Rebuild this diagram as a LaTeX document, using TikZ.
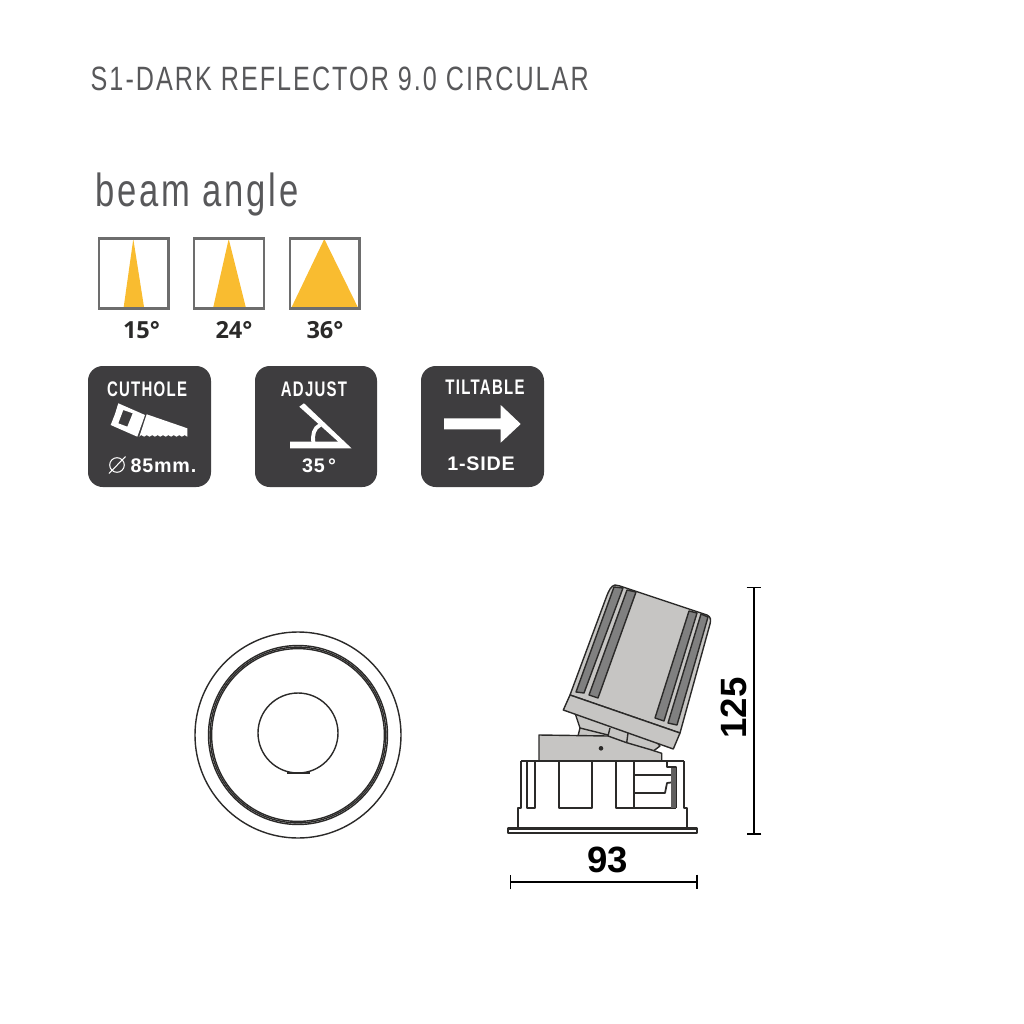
\documentclass[tikz,border=0pt]{standalone}
\usepackage{fontspec}
\setmainfont{Liberation Sans}
\newfontfamily\narrowfont[FakeStretch=0.745,LetterSpace=6]{Liberation Sans}
\newfontfamily\iconfont[FakeStretch=0.71,LetterSpace=6]{Liberation Sans}
\newfontfamily\wideiconfont[LetterSpace=4]{Liberation Sans}
\newfontfamily\angfont{Open Sans}
\usetikzlibrary{arrows.meta}
\definecolor{titlegray}{HTML}{58585A}
\definecolor{boxgray}{HTML}{6D6D6D}
\definecolor{beamyellow}{HTML}{F9BC30}
\definecolor{icondark}{HTML}{3E3D3F}
\definecolor{lampgray}{HTML}{C6C5C3}
\definecolor{groovegray}{HTML}{808080}
\definecolor{linedark}{HTML}{2B2A29}
\tikzset{
	title/.style = {anchor=west, inner sep=0pt, text=titlegray, font=\narrowfont\fontsize{9.6}{12}\selectfont},
	beamhead/.style = {anchor=west, inner sep=0pt, text=titlegray, font=\narrowfont\fontsize{13.2}{16}\selectfont},
	beambox/.style = {draw=boxgray, line width=0.8pt},
	beamfill/.style = {fill=beamyellow},
	anglabel/.style = {inner sep=0pt, text=linedark, font=\angfont\bfseries\fontsize{6.7}{8}\selectfont},
	iconbox/.style = {fill=icondark, rounded corners=4.2pt},
	icontop/.style = {inner sep=0pt, text=white, font=\iconfont\bfseries\fontsize{6}{8}\selectfont},
	iconlow/.style = {inner sep=0pt, text=white, font=\wideiconfont\bfseries\fontsize{5.6}{7}\selectfont},
	iconart/.style = {fill=white},
	lampline/.style = {draw=linedark, line width=0.4pt, line join=round},
	lampfill/.style = {lampline, fill=lampgray},
	groove/.style = {lampline, fill=groovegray},
	dimline/.style = {draw=black, line width=0.5pt, {Bar[width=4.2pt]}-{Bar[width=4.2pt]}},
	dimtext/.style = {inner sep=0pt, text=black, font=\bfseries\fontsize{10.4}{12}\selectfont}
}
\begin{document}
\begin{tikzpicture}[x=0.01cm, y=-0.01cm]
	\useasboundingbox (0,0) rectangle (1024,1024);
	\node[title] (title) at (90,79) {S1-DARK REFLECTOR 9.0 CIRCULAR};
	\node[beamhead] (beamangle) at (95,194) {beam angle};
	% beam boxes
	\fill[beamfill] (133.3,239) -- (144,307) -- (123.7,307) -- cycle;
	\fill[beamfill] (228.7,239) -- (245.7,307) -- (213.3,307) -- cycle;
	\fill[beamfill] (324.3,239) -- (357.7,307) -- (291.7,307) -- cycle;
	\draw[beambox] (99,238.3) rectangle (168.7,308.3);
	\draw[beambox] (194,238.3) rectangle (264,308.3);
	\draw[beambox] (290,238.3) rectangle (359.3,308.3);
	\node[anglabel] (ang15) at (141.5,330) {15°};
	\node[anglabel] (ang24) at (234,330) {24°};
	\node[anglabel] (ang36) at (325,330) {36°};
	% icons
	\fill[iconbox] (88,366) rectangle (211,487);
	\fill[iconbox] (255,366) rectangle (377,487);
	\fill[iconbox] (421,366) rectangle (544,487);
	\node[icontop] (cuthole) at (147,389) {CUTHOLE};
	\node[icontop] (adjust) at (314,389) {ADJUST};
	\node[icontop] (tiltable) at (485,387) {TILTABLE};
	\node[iconlow] (size) at (163.5,466) {85mm.};
	\node[iconlow] (deg) at (319,466) {35\,°};
	\node[iconlow] (side) at (481,464) {1-SIDE};
	% saw
	\fill[iconart, even odd rule] (118.3,403.3) -- (145,415) -- (137.3,436.7) -- (110.7,425) -- (115,414) -- cycle
		(123.3,410) -- (132.7,413.3) -- (127.3,426.7) -- (118.3,423.3) -- cycle;
	\fill[iconart] (146.7,414.3) -- (187.3,428.3) -- (187.3,436.7)
		\foreach \tooth in {1,...,9} { -- ++(-2.7,-1.6) -- ++(-2.7,1.6) } -- (139.3,436.7) -- cycle;
	\draw[white, line width=0.3pt] (109,473.5) -- (125.5,456.5) (117,465) circle (7.3);
	% protractor
	\fill[iconart] (290,441.7) -- (338.3,441.7) -- (299.3,406.7) -- (304,403.3) -- (351.5,448.3) -- (290,448.3) -- cycle;
	\draw[white, line width=1.1pt] (320,425) .. controls (314,428) and (312,435) .. (313.5,443);
	% arrow
	\fill[iconart] (444,418.3) -- (500.7,418.3) -- (500.7,405) -- (520.7,424) -- (500.7,442.7) -- (500.7,429.3) -- (444,429.3) -- cycle;
	% front view
	\draw[lampline] (298,735) circle (103);
	\draw[lampline] (298,735) circle (89.5);
	\draw[lampline] (298,735) circle (87.9);
	\draw[lampline] (298,735) circle (86.4);
	\draw[lampline] (298,733) circle (40);
	\draw[lampline, line width=0.7pt] (287,773) -- (310,773);
	% side view, lamp
	\draw[lampfill] (575,713) -- (580,728) -- (578,736) -- (652,752) -- (660,746) -- (620,700) -- cycle;
	\draw[lampfill] (615,585) -- (620,586) -- (707,615) .. controls (711,617) and (711,620) .. (710,624)
		-- (680,733) -- (570,695) -- (606,598) .. controls (609,590) and (611,586) .. (615,585) -- cycle;
	\draw[groove] (614,587) -- (623,588) -- (584,693) -- (576,692) -- cycle;
	\draw[groove] (627,590) -- (636,592) -- (598,698) -- (589,695) -- cycle;
	\draw[groove] (689,611) -- (697,613) -- (664,721) -- (655,718) -- cycle;
	\draw[groove] (701,614) -- (708,617) -- (677,725) -- (668,723) -- cycle;
	\draw[lampfill] (570,695) -- (680,733) -- (673.3,749) -- (563.3,710) -- cycle;
	\draw[lampline] (580,728) -- (608,735) (610,728) -- (608,736) (628,733) -- (626.7,742.7);
	\draw[lampfill] (539,735) -- (608,736) -- (626.7,742.7) -- (651.7,750) -- (661.7,753.3) -- (661.7,761) -- (539,761) -- cycle;
	\fill[linedark] (601,748.3) circle (2.3);
	% side view, bracket
	\draw[lampline, line width=0.5pt] (521,761) -- (684,761) (521,761) -- (521,808) -- (518,808) -- (518,828)
		(684,761) -- (684,808) -- (687,808) -- (687,828);
	\draw[lampline, line width=0.6pt, fill=white] (508,828.5) rectangle (697,833);
	\draw[lampline, line width=0.5pt] (527,761) -- (527,808) -- (535,808) -- (535,761);
	\draw[lampline, line width=0.5pt] (559,761) -- (559,808) -- (592,808) -- (592,761);
	\draw[lampline, line width=0.5pt] (616,761) -- (616,808) -- (676,808);
	\draw[lampline, line width=0.5pt] (634,761) -- (634,808);
	\draw[lampline, line width=0.5pt] (634,775) -- (675,775) -- (675,782) -- (667,783) -- (665,793) -- (634,793);
	\draw[lampline, line width=0.5pt] (667,761) -- (667,767) -- (676,767) -- (676,808);
	\fill[linedark!75] (671,768) rectangle (676,808);
	% dimensions
	\coordinate (h1) at (754,586.5);
	\coordinate (h2) at (754,834.5);
	\coordinate (w1) at (509.5,882);
	\coordinate (w2) at (697.5,882);
	\draw[dimline] (h1) -- (h2);
	\draw[dimline] (w1) -- (w2);
	\node[dimtext, rotate=90] (height) at (734,708) {125};
	\node[dimtext] (width) at (608,860) {93};
\end{tikzpicture}
\end{document}
